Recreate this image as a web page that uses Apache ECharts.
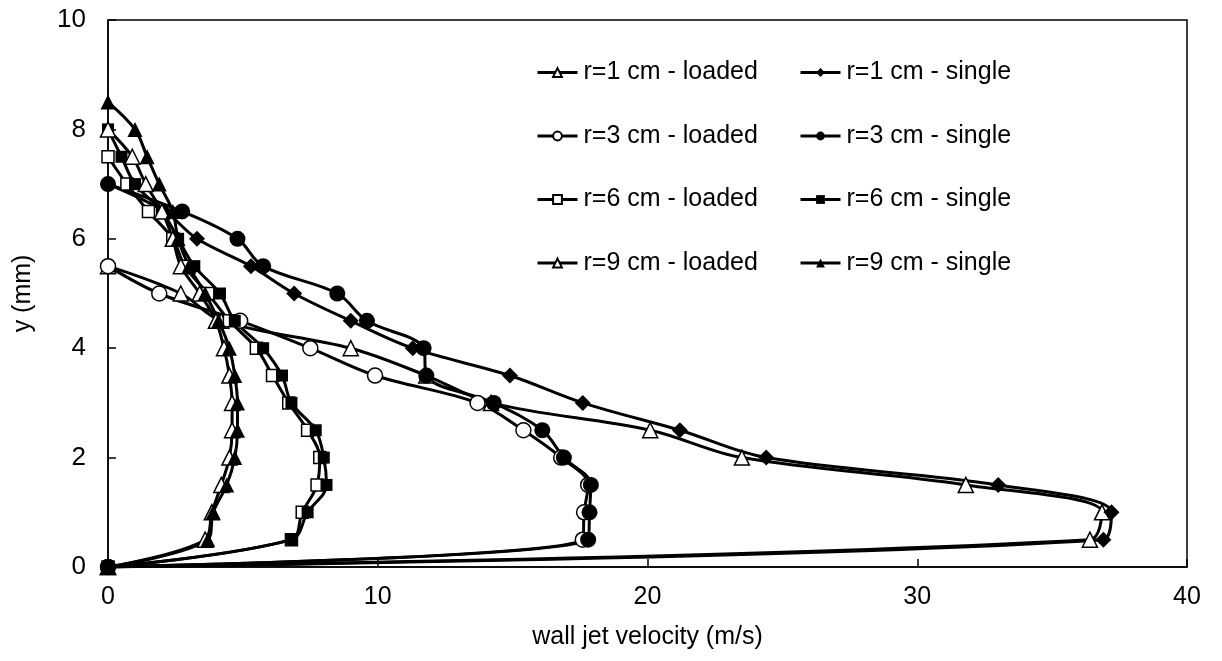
<!DOCTYPE html>
<html>
<head>
<meta charset="utf-8">
<script src="https://cdn.jsdelivr.net/npm/echarts@6/dist/echarts.min.js"></script>
<style>
  html, body { margin: 0; padding: 0; background: #fff; }
  #chart { width: 1222px; height: 661px; }
</style>
</head>
<body>
<div id="chart"></div>
<script>
// Wall jet velocity profiles: height above the wall (mm) vs. velocity (m/s)
const xTicks = [0, 10, 20, 30, 40];
const yTicks = [0, 2, 4, 6, 8, 10];

const seriesNames = [
  'r=1 cm - loaded', 'r=1 cm - single',
  'r=3 cm - loaded', 'r=3 cm - single',
  'r=6 cm - loaded', 'r=6 cm - single',
  'r=9 cm - loaded', 'r=9 cm - single'
];

// r = 1 cm
const yR1Loaded = [5.5, 5, 4.5, 4, 3.5, 3, 2.5, 2, 1.5, 1, 0.5, 0];
const vR1Loaded = [0, 2.7, 4.2, 9.0, 11.8, 14.2, 20.1, 23.5, 31.8, 36.85, 36.4, 0];
const yR1Single = [7, 6.5, 6, 5.5, 5, 4.5, 4, 3.5, 3, 2.5, 2, 1.5, 1, 0.5, 0];
const vR1Single = [0, 2.1, 3.3, 5.3, 6.9, 9.0, 11.3, 14.9, 17.6, 21.2, 24.4, 33.0, 37.2, 36.9, 0];

// r = 3 cm
const yR3Loaded = [5.5, 5, 4.5, 4, 3.5, 3, 2.5, 2, 1.5, 1, 0.5, 0];
const vR3Loaded = [0, 1.9, 4.9, 7.5, 9.9, 13.7, 15.4, 16.8, 17.8, 17.65, 17.6, 0];
const yR3Single = [7, 6.5, 6, 5.5, 5, 4.5, 4, 3.5, 3, 2.5, 2, 1.5, 1, 0.5, 0];
const vR3Single = [0, 2.75, 4.8, 5.75, 8.5, 9.6, 11.7, 11.8, 14.3, 16.1, 16.9, 17.9, 17.85, 17.8, 0];

// r = 6 cm
const yR6Loaded = [7.5, 7, 6.5, 6, 5.5, 5, 4.5, 4, 3.5, 3, 2.5, 2, 1.5, 1, 0.5, 0];
const vR6Loaded = [0, 0.7, 1.5, 2.4, 2.85, 3.7, 4.5, 5.5, 6.1, 6.7, 7.4, 7.85, 7.75, 7.2, 6.8, 0];
const yR6Single = [8, 7.5, 7, 6.5, 6, 5.5, 5, 4.5, 4, 3.5, 3, 2.5, 2, 1.5, 1, 0.5, 0];
const vR6Single = [0, 0.5, 1.0, 2.0, 2.6, 3.2, 4.15, 4.7, 5.75, 6.45, 6.8, 7.7, 8.0, 8.1, 7.4, 6.8, 0];

// r = 9 cm
const yR9Loaded = [8, 7.5, 7, 6.5, 6, 5.5, 5, 4.5, 4, 3.5, 3, 2.5, 2, 1.5, 1, 0.5, 0];
const vR9Loaded = [0, 0.9, 1.4, 2.0, 2.4, 2.7, 3.4, 4.0, 4.3, 4.5, 4.6, 4.6, 4.5, 4.2, 3.85, 3.6, 0];
const yR9Single = [8.5, 8, 7.5, 7, 6.5, 6, 5.5, 5, 4.5, 4, 3.5, 3, 2.5, 2, 1.5, 1, 0.5, 0];
const vR9Single = [0, 1.0, 1.45, 1.9, 2.4, 2.6, 3.0, 3.6, 4.1, 4.5, 4.7, 4.8, 4.8, 4.7, 4.4, 3.9, 3.7, 0];

const FONT = 'Liberation Sans, Arial, sans-serif';

function pairs(v, y) { return v.map((x, i) => [x, y[i]]); }

function makeSeries(name, v, y, symbol, size, filled) {
  return {
    name: name,
    type: 'line',
    data: pairs(v, y),
    smooth: 0.35,
    symbol: symbol,
    symbolSize: size,
    showAllSymbol: true,
    lineStyle: { color: '#000', width: 3 },
    itemStyle: {
      color: filled ? '#000' : '#fff',
      borderColor: '#000',
      borderWidth: filled ? 0 : 1.5
    },
    emphasis: { disabled: true },
    z: 2
  };
}

const series = [
  makeSeries(seriesNames[0], vR1Loaded, yR1Loaded, 'triangle', 15, false),
  makeSeries(seriesNames[1], vR1Single, yR1Single, 'diamond', 16, true),
  makeSeries(seriesNames[2], vR3Loaded, yR3Loaded, 'circle', 15, false),
  makeSeries(seriesNames[3], vR3Single, yR3Single, 'circle', 16, true),
  makeSeries(seriesNames[4], vR6Loaded, yR6Loaded, 'rect', 12, false),
  makeSeries(seriesNames[5], vR6Single, yR6Single, 'rect', 12, true),
  makeSeries(seriesNames[6], vR9Loaded, yR9Loaded, 'triangle', 15, false),
  makeSeries(seriesNames[7], vR9Single, yR9Single, 'triangle', 15, true)
];

const legendCommon = {
  orient: 'vertical',
  top: 55,
  itemWidth: 40,
  itemHeight: 11,
  itemGap: 38.5,
  lineStyle: { width: 3, color: '#000' },
  textStyle: { fontFamily: FONT, fontSize: 25, color: '#000', padding: [0, 0, 0, 1] },
  selectedMode: false
};

const chart = echarts.init(document.getElementById('chart'), null, { renderer: 'canvas' });
chart.setOption({
  animation: false,
  backgroundColor: '#fff',
  grid: {
    left: 108, right: 35, top: 20, bottom: 94,
    show: true, borderColor: '#000', borderWidth: 1.5, backgroundColor: 'transparent'
  },
  legend: [
    Object.assign({}, legendCommon, {
      left: 531,
      data: [seriesNames[0], seriesNames[2], seriesNames[4], seriesNames[6]]
    }),
    Object.assign({}, legendCommon, {
      left: 794,
      data: [seriesNames[1], seriesNames[3], seriesNames[5], seriesNames[7]]
    })
  ],
  xAxis: {
    type: 'value',
    min: xTicks[0], max: xTicks[xTicks.length - 1], interval: 10,
    name: 'wall jet velocity (m/s)',
    nameLocation: 'middle',
    nameGap: 58,
    nameTextStyle: { fontFamily: FONT, fontSize: 25, color: '#000' },
    axisLine: { show: true, onZero: false, lineStyle: { color: '#000', width: 1.5 } },
    axisTick: { show: true, inside: true, length: 8, lineStyle: { color: '#000', width: 1.5 } },
    axisLabel: { fontFamily: FONT, fontSize: 25, color: '#000', margin: 18 },
    splitLine: { show: false }
  },
  yAxis: {
    type: 'value',
    min: yTicks[0], max: yTicks[yTicks.length - 1], interval: 2,
    name: 'y (mm)',
    nameLocation: 'middle',
    nameGap: 72,
    nameTextStyle: { fontFamily: FONT, fontSize: 25, color: '#000' },
    axisLine: { show: true, onZero: false, lineStyle: { color: '#000', width: 1.5 } },
    axisTick: { show: true, inside: true, length: 8, lineStyle: { color: '#000', width: 1.5 } },
    axisLabel: { fontFamily: FONT, fontSize: 26, color: '#000', margin: 22 },
    splitLine: { show: false }
  },
  series: series
});
</script>
</body>
</html>
